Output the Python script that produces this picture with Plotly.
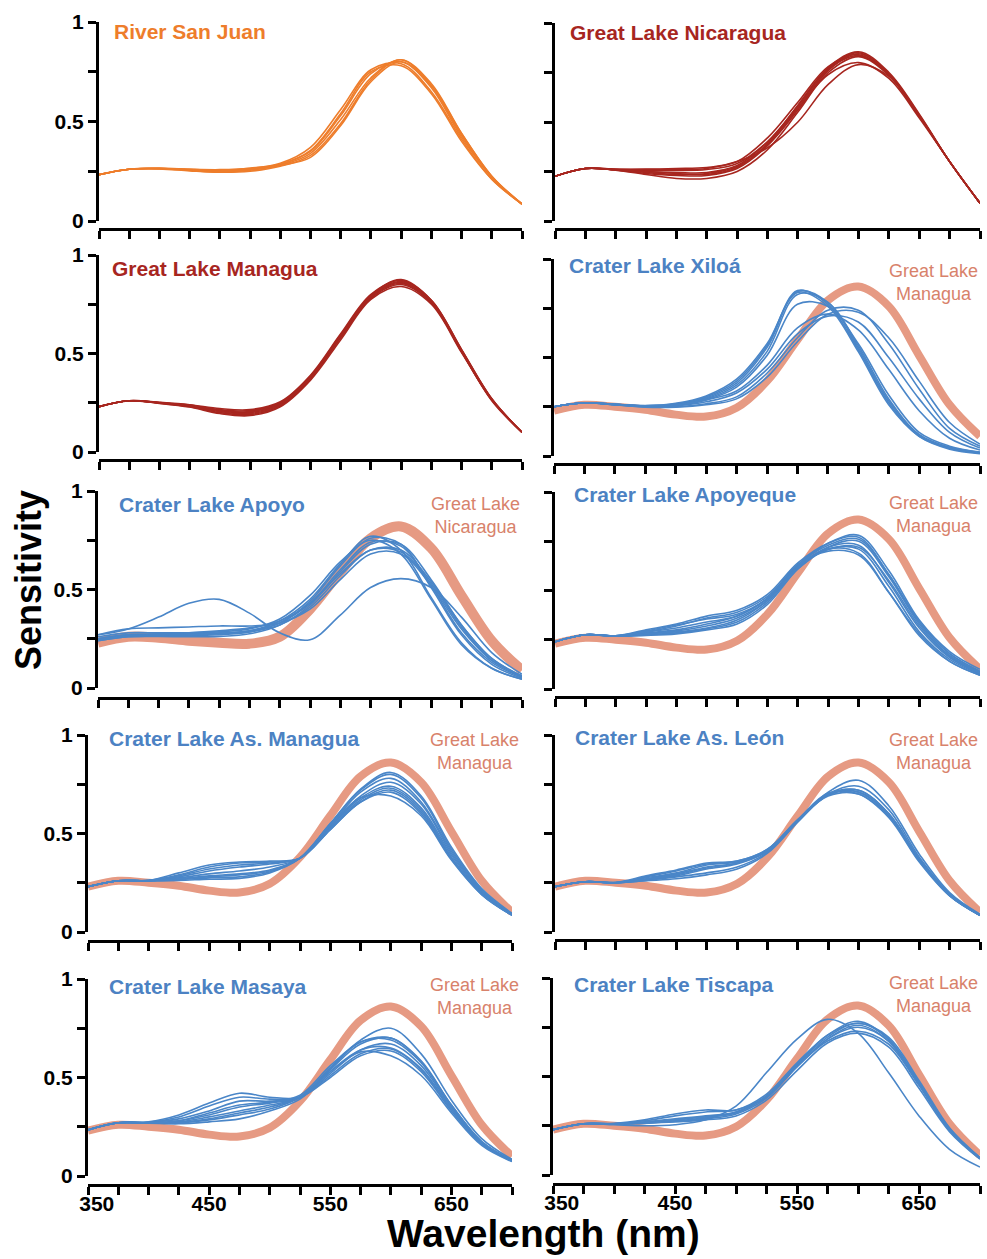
import plotly.graph_objects as go

W, H = 987, 1259

# ---------------- data (sensitivity) ----------------
WAVELENGTH = [350, 375, 400, 425, 450, 475, 500, 525, 550, 575, 600, 625, 650, 675, 700]
X_TICK_VALUES = [350, 375, 400, 425, 450, 475, 500, 525, 550, 575, 600, 625, 650, 675, 700]
X_TICK_LABELS = ["\u00a0\u00a0\u00a0350", "", "", "", "450", "", "", "", "550", "", "", "", "650", "", ""]
Y_TICK_VALUES = [0, 0.25, 0.5, 0.75, 1]
Y_TICK_LABELS = ["0", "", "0.5", "", "1"]

REF_MANAGUA = [0.23, 0.26, 0.25, 0.235, 0.21, 0.20, 0.245, 0.38, 0.59, 0.79, 0.86, 0.76, 0.51, 0.26, 0.10]
REF_NICARAGUA = [0.23, 0.26, 0.255, 0.24, 0.23, 0.225, 0.26, 0.40, 0.59, 0.76, 0.82, 0.71, 0.47, 0.24, 0.09]

RIVER_SAN_JUAN = [
    [0.233, 0.26, 0.265, 0.26, 0.255, 0.265, 0.29, 0.37, 0.56, 0.76, 0.79, 0.65, 0.41, 0.21, 0.085],
    [0.233, 0.26, 0.264, 0.258, 0.25, 0.26, 0.285, 0.35, 0.53, 0.74, 0.80, 0.67, 0.42, 0.22, 0.085],
    [0.233, 0.26, 0.263, 0.255, 0.245, 0.255, 0.28, 0.34, 0.51, 0.72, 0.81, 0.68, 0.43, 0.22, 0.085],
    [0.233, 0.26, 0.262, 0.252, 0.245, 0.25, 0.275, 0.33, 0.49, 0.71, 0.81, 0.69, 0.44, 0.225, 0.085],
    [0.233, 0.26, 0.265, 0.26, 0.258, 0.265, 0.285, 0.355, 0.54, 0.75, 0.78, 0.64, 0.40, 0.21, 0.085],
    [0.233, 0.26, 0.263, 0.256, 0.25, 0.258, 0.28, 0.32, 0.48, 0.70, 0.80, 0.68, 0.44, 0.225, 0.085],
]

GREAT_LAKE_NICARAGUA = [
    [0.226, 0.265, 0.262, 0.262, 0.265, 0.27, 0.30, 0.42, 0.60, 0.78, 0.84, 0.74, 0.53, 0.30, 0.09],
    [0.226, 0.265, 0.26, 0.25, 0.245, 0.245, 0.28, 0.40, 0.58, 0.77, 0.85, 0.74, 0.53, 0.30, 0.09],
    [0.226, 0.265, 0.258, 0.24, 0.23, 0.23, 0.265, 0.38, 0.56, 0.76, 0.845, 0.745, 0.535, 0.30, 0.09],
    [0.226, 0.265, 0.257, 0.235, 0.215, 0.215, 0.25, 0.36, 0.55, 0.75, 0.83, 0.735, 0.53, 0.30, 0.09],
    [0.226, 0.265, 0.26, 0.255, 0.255, 0.26, 0.29, 0.40, 0.57, 0.74, 0.80, 0.72, 0.52, 0.30, 0.09],
    [0.226, 0.265, 0.26, 0.26, 0.26, 0.265, 0.30, 0.37, 0.50, 0.69, 0.79, 0.73, 0.53, 0.30, 0.09],
    [0.226, 0.265, 0.258, 0.245, 0.235, 0.24, 0.275, 0.39, 0.585, 0.775, 0.855, 0.75, 0.54, 0.30, 0.09],
    [0.226, 0.265, 0.259, 0.25, 0.24, 0.235, 0.27, 0.385, 0.57, 0.765, 0.835, 0.74, 0.53, 0.30, 0.09],
]

GREAT_LAKE_MANAGUA = [
    [0.23, 0.26, 0.252, 0.24, 0.22, 0.215, 0.255, 0.39, 0.60, 0.80, 0.87, 0.77, 0.52, 0.27, 0.10],
    [0.23, 0.26, 0.25, 0.235, 0.21, 0.20, 0.245, 0.38, 0.59, 0.79, 0.86, 0.76, 0.51, 0.26, 0.10],
    [0.23, 0.26, 0.248, 0.23, 0.20, 0.19, 0.235, 0.37, 0.58, 0.78, 0.85, 0.755, 0.51, 0.265, 0.10],
    [0.23, 0.26, 0.247, 0.228, 0.195, 0.185, 0.23, 0.365, 0.57, 0.775, 0.84, 0.75, 0.505, 0.265, 0.10],
    [0.23, 0.26, 0.251, 0.238, 0.215, 0.21, 0.25, 0.385, 0.595, 0.795, 0.875, 0.77, 0.52, 0.27, 0.10],
    [0.23, 0.26, 0.249, 0.232, 0.205, 0.195, 0.24, 0.375, 0.585, 0.785, 0.855, 0.76, 0.51, 0.265, 0.10],
    [0.23, 0.26, 0.25, 0.236, 0.212, 0.205, 0.247, 0.38, 0.59, 0.79, 0.865, 0.765, 0.515, 0.268, 0.10],
]

CRATER_XILOA = [
    [0.25, 0.27, 0.262, 0.255, 0.265, 0.30, 0.38, 0.56, 0.84, 0.77, 0.54, 0.27, 0.10, 0.04, 0.015],
    [0.25, 0.27, 0.262, 0.255, 0.262, 0.295, 0.37, 0.55, 0.835, 0.78, 0.55, 0.28, 0.105, 0.04, 0.015],
    [0.25, 0.27, 0.262, 0.254, 0.26, 0.29, 0.36, 0.53, 0.82, 0.78, 0.56, 0.29, 0.11, 0.045, 0.018],
    [0.25, 0.27, 0.262, 0.253, 0.257, 0.285, 0.35, 0.51, 0.77, 0.76, 0.57, 0.31, 0.12, 0.05, 0.02],
    [0.25, 0.27, 0.26, 0.25, 0.25, 0.265, 0.30, 0.42, 0.60, 0.74, 0.74, 0.57, 0.34, 0.14, 0.05],
    [0.25, 0.27, 0.26, 0.25, 0.255, 0.275, 0.32, 0.44, 0.62, 0.71, 0.68, 0.50, 0.29, 0.12, 0.04],
    [0.25, 0.27, 0.261, 0.252, 0.26, 0.285, 0.33, 0.46, 0.65, 0.72, 0.64, 0.44, 0.23, 0.09, 0.03],
    [0.25, 0.27, 0.263, 0.256, 0.268, 0.305, 0.39, 0.57, 0.83, 0.76, 0.53, 0.26, 0.10, 0.035, 0.012],
    [0.25, 0.27, 0.26, 0.248, 0.248, 0.26, 0.29, 0.40, 0.58, 0.72, 0.73, 0.60, 0.38, 0.17, 0.06],
]

CRATER_APOYO = [
    [0.27, 0.30, 0.36, 0.43, 0.45, 0.38, 0.28, 0.245, 0.37, 0.51, 0.555, 0.51, 0.36, 0.18, 0.07],
    [0.25, 0.27, 0.27, 0.27, 0.275, 0.29, 0.34, 0.45, 0.63, 0.77, 0.70, 0.46, 0.23, 0.10, 0.045],
    [0.26, 0.28, 0.28, 0.28, 0.285, 0.30, 0.35, 0.47, 0.64, 0.75, 0.68, 0.45, 0.22, 0.10, 0.045],
    [0.24, 0.26, 0.265, 0.265, 0.27, 0.285, 0.33, 0.43, 0.60, 0.74, 0.72, 0.52, 0.28, 0.13, 0.055],
    [0.25, 0.27, 0.275, 0.28, 0.29, 0.305, 0.34, 0.43, 0.58, 0.70, 0.69, 0.53, 0.31, 0.14, 0.06],
    [0.27, 0.30, 0.305, 0.31, 0.315, 0.315, 0.33, 0.40, 0.55, 0.68, 0.68, 0.52, 0.30, 0.14, 0.06],
    [0.24, 0.26, 0.262, 0.26, 0.262, 0.275, 0.32, 0.42, 0.59, 0.73, 0.73, 0.55, 0.32, 0.15, 0.06],
    [0.25, 0.27, 0.27, 0.275, 0.28, 0.29, 0.33, 0.44, 0.62, 0.76, 0.73, 0.51, 0.27, 0.12, 0.05],
    [0.245, 0.265, 0.268, 0.27, 0.275, 0.285, 0.32, 0.41, 0.57, 0.70, 0.70, 0.54, 0.32, 0.15, 0.06],
]

CRATER_APOYEQUE = [
    [0.24, 0.275, 0.27, 0.30, 0.33, 0.37, 0.40, 0.48, 0.64, 0.74, 0.77, 0.58, 0.34, 0.18, 0.09],
    [0.24, 0.275, 0.27, 0.29, 0.32, 0.36, 0.39, 0.47, 0.63, 0.74, 0.78, 0.60, 0.35, 0.19, 0.10],
    [0.24, 0.275, 0.27, 0.285, 0.30, 0.33, 0.37, 0.46, 0.63, 0.73, 0.76, 0.58, 0.34, 0.18, 0.09],
    [0.24, 0.275, 0.268, 0.28, 0.295, 0.32, 0.36, 0.45, 0.62, 0.72, 0.73, 0.54, 0.31, 0.16, 0.08],
    [0.24, 0.275, 0.268, 0.275, 0.285, 0.305, 0.34, 0.44, 0.61, 0.71, 0.71, 0.52, 0.29, 0.15, 0.075],
    [0.24, 0.275, 0.27, 0.295, 0.325, 0.355, 0.38, 0.46, 0.62, 0.71, 0.69, 0.49, 0.27, 0.14, 0.07],
    [0.24, 0.275, 0.268, 0.272, 0.28, 0.30, 0.33, 0.43, 0.61, 0.72, 0.75, 0.57, 0.33, 0.17, 0.085],
    [0.24, 0.275, 0.27, 0.28, 0.29, 0.31, 0.35, 0.45, 0.62, 0.71, 0.72, 0.55, 0.32, 0.165, 0.08],
    [0.24, 0.275, 0.27, 0.29, 0.31, 0.34, 0.37, 0.46, 0.63, 0.70, 0.68, 0.49, 0.28, 0.14, 0.07],
]

CRATER_AS_MANAGUA = [
    [0.23, 0.26, 0.262, 0.30, 0.34, 0.355, 0.36, 0.375, 0.52, 0.66, 0.71, 0.60, 0.37, 0.19, 0.085],
    [0.23, 0.26, 0.262, 0.29, 0.33, 0.35, 0.355, 0.375, 0.52, 0.66, 0.72, 0.61, 0.375, 0.195, 0.085],
    [0.23, 0.26, 0.26, 0.28, 0.31, 0.33, 0.345, 0.375, 0.53, 0.68, 0.74, 0.63, 0.39, 0.20, 0.088],
    [0.23, 0.26, 0.26, 0.275, 0.295, 0.31, 0.33, 0.375, 0.535, 0.69, 0.76, 0.65, 0.40, 0.205, 0.09],
    [0.23, 0.26, 0.26, 0.27, 0.285, 0.295, 0.315, 0.375, 0.54, 0.71, 0.78, 0.66, 0.41, 0.21, 0.09],
    [0.23, 0.26, 0.26, 0.265, 0.275, 0.28, 0.305, 0.375, 0.55, 0.72, 0.80, 0.68, 0.42, 0.215, 0.092],
    [0.23, 0.26, 0.259, 0.262, 0.268, 0.272, 0.30, 0.375, 0.55, 0.725, 0.81, 0.69, 0.43, 0.22, 0.095],
    [0.23, 0.26, 0.261, 0.285, 0.32, 0.34, 0.35, 0.375, 0.525, 0.67, 0.73, 0.62, 0.38, 0.195, 0.087],
    [0.23, 0.26, 0.26, 0.27, 0.28, 0.29, 0.31, 0.375, 0.545, 0.68, 0.69, 0.59, 0.365, 0.19, 0.085],
]

CRATER_AS_LEON = [
    [0.23, 0.255, 0.25, 0.28, 0.31, 0.345, 0.36, 0.42, 0.57, 0.70, 0.72, 0.60, 0.37, 0.19, 0.085],
    [0.23, 0.255, 0.25, 0.275, 0.30, 0.34, 0.355, 0.415, 0.565, 0.695, 0.71, 0.59, 0.365, 0.185, 0.085],
    [0.23, 0.255, 0.252, 0.285, 0.315, 0.35, 0.36, 0.42, 0.57, 0.69, 0.70, 0.585, 0.36, 0.185, 0.085],
    [0.23, 0.255, 0.25, 0.265, 0.285, 0.32, 0.345, 0.41, 0.56, 0.70, 0.74, 0.62, 0.38, 0.195, 0.088],
    [0.23, 0.255, 0.25, 0.26, 0.27, 0.29, 0.32, 0.40, 0.56, 0.71, 0.77, 0.64, 0.395, 0.20, 0.09],
    [0.23, 0.255, 0.25, 0.262, 0.28, 0.30, 0.33, 0.405, 0.56, 0.695, 0.72, 0.60, 0.37, 0.19, 0.086],
    [0.23, 0.255, 0.251, 0.27, 0.295, 0.33, 0.35, 0.41, 0.565, 0.70, 0.71, 0.595, 0.365, 0.187, 0.085],
    [0.23, 0.255, 0.25, 0.268, 0.29, 0.325, 0.35, 0.415, 0.57, 0.705, 0.70, 0.58, 0.355, 0.183, 0.084],
]

CRATER_MASAYA = [
    [0.234, 0.27, 0.275, 0.31, 0.37, 0.42, 0.40, 0.40, 0.50, 0.61, 0.635, 0.53, 0.33, 0.16, 0.075],
    [0.234, 0.27, 0.273, 0.30, 0.355, 0.40, 0.39, 0.40, 0.51, 0.62, 0.645, 0.54, 0.34, 0.165, 0.077],
    [0.234, 0.27, 0.272, 0.29, 0.33, 0.38, 0.38, 0.40, 0.52, 0.64, 0.67, 0.56, 0.35, 0.17, 0.078],
    [0.234, 0.27, 0.27, 0.28, 0.31, 0.35, 0.37, 0.40, 0.54, 0.67, 0.70, 0.58, 0.36, 0.175, 0.08],
    [0.234, 0.27, 0.27, 0.275, 0.30, 0.33, 0.36, 0.40, 0.55, 0.69, 0.75, 0.62, 0.385, 0.19, 0.085],
    [0.234, 0.27, 0.268, 0.27, 0.285, 0.31, 0.34, 0.40, 0.545, 0.68, 0.69, 0.575, 0.355, 0.17, 0.08],
    [0.234, 0.27, 0.268, 0.265, 0.275, 0.29, 0.33, 0.39, 0.53, 0.64, 0.65, 0.545, 0.34, 0.165, 0.077],
    [0.234, 0.27, 0.269, 0.272, 0.29, 0.32, 0.35, 0.40, 0.53, 0.63, 0.61, 0.51, 0.32, 0.155, 0.073],
    [0.234, 0.27, 0.27, 0.28, 0.32, 0.36, 0.375, 0.41, 0.56, 0.68, 0.70, 0.585, 0.36, 0.175, 0.08],
]

CRATER_TISCAPA = [
    [0.23, 0.26, 0.255, 0.25, 0.255, 0.28, 0.35, 0.52, 0.69, 0.79, 0.72, 0.52, 0.30, 0.13, 0.04],
    [0.23, 0.26, 0.262, 0.28, 0.31, 0.33, 0.33, 0.41, 0.57, 0.71, 0.78, 0.69, 0.47, 0.235, 0.085],
    [0.23, 0.26, 0.26, 0.275, 0.30, 0.32, 0.33, 0.40, 0.56, 0.71, 0.77, 0.70, 0.48, 0.24, 0.088],
    [0.23, 0.26, 0.26, 0.27, 0.285, 0.30, 0.32, 0.40, 0.56, 0.70, 0.77, 0.69, 0.47, 0.235, 0.086],
    [0.23, 0.26, 0.258, 0.265, 0.275, 0.29, 0.32, 0.395, 0.55, 0.69, 0.76, 0.68, 0.46, 0.23, 0.085],
    [0.23, 0.26, 0.258, 0.262, 0.27, 0.285, 0.31, 0.39, 0.55, 0.69, 0.75, 0.68, 0.46, 0.23, 0.085],
    [0.23, 0.26, 0.259, 0.268, 0.28, 0.295, 0.315, 0.40, 0.55, 0.68, 0.73, 0.665, 0.455, 0.225, 0.083],
    [0.23, 0.26, 0.26, 0.265, 0.27, 0.28, 0.30, 0.38, 0.53, 0.67, 0.72, 0.65, 0.44, 0.22, 0.08],
]

# ---------------- styling ----------------
FONT = "Liberation Sans, Arial, Helvetica, sans-serif"
ORANGE = "#EE7D2B"
DARKRED = "#A7261F"
BLUE = "#4A86C8"
BLUE_TXT = "#4C82C3"
SALMON = "#E69A83"
SALMON_TXT = "#D8826B"

# panel geometry in pixels: x_left, x_right, y(1), y(0), x-axis line y
PANELS = [
    dict(title="River San Juan", tcol=ORANGE, curves=RIVER_SAN_JUAN, col=ORANGE, ref=None,
         geo=(99, 522, 22, 221, 229), tpos=(112, 32), left=True, bottom=False),
    dict(title="Great Lake Nicaragua", tcol=DARKRED, curves=GREAT_LAKE_NICARAGUA, col=DARKRED, ref=None,
         geo=(555, 980, 23, 221, 229), tpos=(568, 33), left=False, bottom=False),
    dict(title="Great Lake Managua", tcol=DARKRED, curves=GREAT_LAKE_MANAGUA, col=DARKRED, ref=None,
         geo=(99, 522, 255, 452, 460), tpos=(110, 268), left=True, bottom=False),
    dict(title="Crater Lake Xiloá", tcol=BLUE_TXT, curves=CRATER_XILOA, col=BLUE, ref=(REF_MANAGUA, "Managua", 8),
         geo=(554, 980, 259, 456, 464), tpos=(567, 265), rpos=(980, 282), left=False, bottom=False),
    dict(title="Crater Lake Apoyo", tcol=BLUE_TXT, curves=CRATER_APOYO, col=BLUE, ref=(REF_NICARAGUA, "Nicaragua", 10),
         geo=(98, 522, 491, 688, 698), tpos=(117, 505), rpos=(522, 515), left=True, bottom=False),
    dict(title="Crater Lake Apoyeque", tcol=BLUE_TXT, curves=CRATER_APOYEQUE, col=BLUE, ref=(REF_MANAGUA, "Managua", 8),
         geo=(555, 980, 492, 689, 697), tpos=(572, 494), rpos=(980, 514), left=False, bottom=False),
    dict(title="Crater Lake As. Managua", tcol=BLUE_TXT, curves=CRATER_AS_MANAGUA, col=BLUE, ref=(REF_MANAGUA, "Managua", 8),
         geo=(88, 512, 735, 932, 941), tpos=(107, 738), rpos=(521, 751), left=True, bottom=False),
    dict(title="Crater Lake As. León", tcol=BLUE_TXT, curves=CRATER_AS_LEON, col=BLUE, ref=(REF_MANAGUA, "Managua", 8),
         geo=(555, 980, 735, 932, 940), tpos=(573, 737), rpos=(980, 751), left=False, bottom=False),
    dict(title="Crater Lake Masaya", tcol=BLUE_TXT, curves=CRATER_MASAYA, col=BLUE, ref=(REF_MANAGUA, "Managua", 8),
         geo=(88, 512, 979, 1176, 1185), tpos=(107, 987), rpos=(521, 996), left=True, bottom=True),
    dict(title="Crater Lake Tiscapa", tcol=BLUE_TXT, curves=CRATER_TISCAPA, col=BLUE, ref=(REF_MANAGUA, "Managua", 8),
         geo=(553, 980, 978, 1175, 1184), tpos=(572, 984), rpos=(980, 994), left=False, bottom=True),
]


def px(x):
    return x / W


def py(y):
    return 1 - y / H


fig = go.Figure()
layout = dict(
    template="none",
    width=W, height=H, margin=dict(l=0, r=0, t=0, b=0, pad=0, autoexpand=False),
    paper_bgcolor="white", plot_bgcolor="rgba(0,0,0,0)",
    showlegend=False, font=dict(family=FONT, color="black"),
)
annotations = []

for i, p in enumerate(PANELS, start=1):
    xl, xr, y1, y0, xa = p["geo"]
    xname = "x" if i == 1 else f"x{i}"
    yname = "y" if i == 1 else f"y{i}"
    if p["ref"] is not None:
        ref_vals, ref_name, ref_w = p["ref"]
        fig.add_trace(go.Scatter(
            x=WAVELENGTH, y=ref_vals, mode="lines", xaxis=xname, yaxis=yname,
            line=dict(color=SALMON, width=ref_w, shape="spline", smoothing=1.0),
            hoverinfo="skip"))
        annotations.append(dict(
            xref="paper", yref="paper", x=px(p["rpos"][0]), y=py(p["rpos"][1]),
            xanchor="right", yanchor="middle",
            text=f"Great Lake<br>{ref_name}", showarrow=False, align="center",
            font=dict(family=FONT, size=18, color=SALMON_TXT)))
    for c in p["curves"]:
        fig.add_trace(go.Scatter(
            x=WAVELENGTH, y=c, mode="lines", xaxis=xname, yaxis=yname,
            line=dict(color=p["col"], width=1.6, shape="spline", smoothing=1.0),
            hoverinfo="skip"))
    annotations.append(dict(
        xref="paper", yref="paper", x=px(p["tpos"][0]), y=py(p["tpos"][1]),
        xanchor="left", yanchor="middle", text=p["title"], showarrow=False,
        font=dict(family=FONT, size=21, color=p["tcol"], weight="bold")))

    xkey = "xaxis" if i == 1 else f"xaxis{i}"
    ykey = "yaxis" if i == 1 else f"yaxis{i}"
    layout[xkey] = dict(
        domain=[px(xl), px(xr)], range=[350, 700], anchor="free", position=py(xa),
        automargin=False,
        showline=True, linewidth=3, linecolor="black", mirror=False,
        ticks="outside", ticklen=8, tickwidth=3, tickcolor="black",
        tickvals=X_TICK_VALUES, ticktext=X_TICK_LABELS, showticklabels=p["bottom"],
        ticklabelstandoff=-9,
        tickfont=dict(family=FONT, size=21, color="black", weight="bold"),
        showgrid=False, zeroline=False, fixedrange=True,
    )
    layout[ykey] = dict(
        domain=[py(y0), py(y1)], range=[0, 1], anchor=xname,
        automargin=False,
        showline=True, linewidth=3, linecolor="black",
        ticks="outside", ticklen=8, tickwidth=3, tickcolor="black",
        tickvals=Y_TICK_VALUES, ticktext=Y_TICK_LABELS, showticklabels=p["left"],
        tickfont=dict(family=FONT, size=21, color="black", weight="bold"),
        showgrid=False, zeroline=False, fixedrange=True,
    )

annotations.append(dict(
    xref="paper", yref="paper", x=px(28), y=py(580), xanchor="center", yanchor="middle",
    text="Sensitivity", textangle=-90, showarrow=False,
    font=dict(family=FONT, size=36, color="black", weight="bold")))
annotations.append(dict(
    xref="paper", yref="paper", x=px(543), y=py(1233), xanchor="center", yanchor="middle",
    text="Wavelength (nm)", showarrow=False, borderpad=0,
    font=dict(family=FONT, size=39, color="black", weight="bold")))

layout["annotations"] = annotations
fig.update_layout(**layout)
fig.write_html("out.html")
